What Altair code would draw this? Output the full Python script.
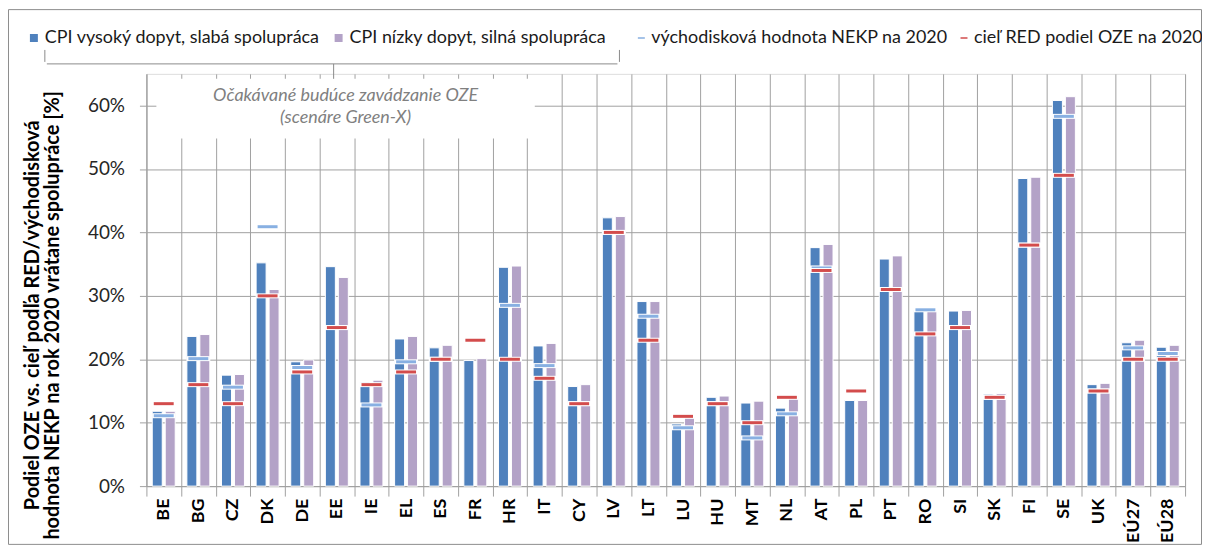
import altair as alt
import pandas as pd

countries = ["BE", "BG", "CZ", "DK", "DE", "EE", "IE", "EL", "ES", "FR", "HR", "IT", "CY", "LV", "LT",
             "LU", "HU", "MT", "NL", "AT", "PL", "PT", "RO", "SI", "SK", "FI", "SE", "UK", "EÚ27", "EÚ28"]
cpi_high = [11.8, 23.6, 17.5, 35.2, 19.6, 34.6, 16.4, 23.2, 21.8, 19.8, 34.5, 22.1, 15.7, 42.3, 29.1,
            9.8, 14.0, 13.1, 12.3, 37.6, 13.5, 35.8, 27.7, 27.6, 14.5, 48.5, 60.8, 16.0, 22.6, 21.9]
cpi_low = [11.8, 23.9, 17.6, 31.0, 19.9, 32.9, 16.7, 23.6, 22.2, 20.1, 34.7, 22.5, 16.0, 42.5, 29.1,
           10.8, 14.2, 13.4, 14.1, 38.1, 13.5, 36.3, 27.7, 27.7, 14.6, 48.7, 61.4, 16.2, 23.0, 22.2]
nekp = [11.1, 20.1, 15.6, 40.9, 18.7, 25.0, 12.8, 19.6, 20.0, 23.0, 28.5, 19.0, 13.0, 40.0, 26.8,
        9.2, 13.0, 7.6, 11.4, 34.4, 15.0, 31.0, 27.8, 25.0, 14.0, 38.0, 58.3, 15.0, 21.8, 20.9]
red_target = [13, 16, 13, 30, 18, 25, 16, 18, 20, 23, 20, 17, 13, 40, 23,
              11, 13, 10, 14, 34, 15, 31, 24, 25, 14, 38, 49, 15, 20, 20]

scenarios = ["CPI vysoký dopyt, slabá spolupráca", "CPI nízky dopyt, silná spolupráca"]
marker_series = ["východisková hodnota NEKP na 2020", "cieľ RED podiel OZE na 2020"]
y_ticks = [0, 0.1, 0.2, 0.3, 0.4, 0.5, 0.6]
y_title = ["Podiel OZE vs. cieľ podľa RED/východisková",
           "hodnota NEKP na rok 2020 vrátane spolupráce [%]"]
note_lines = ["Očakávané budúce zavádzanie OZE", "(scenáre Green-X)"]

bars = pd.DataFrame(
    [{"country": c, "scenario": scenarios[0], "value": v / 100} for c, v in zip(countries, cpi_high)]
    + [{"country": c, "scenario": scenarios[1], "value": v / 100} for c, v in zip(countries, cpi_low)]
)
nekp_df = pd.DataFrame({"country": countries, "series": marker_series[0], "value": [v / 100 for v in nekp]})
red_df = pd.DataFrame({"country": countries, "series": marker_series[1], "value": [v / 100 for v in red_target]})

FONT = "Lato"
W, H = 1043, 414
GRID = "#a0a0a0"

x_enc = alt.X("country:N", sort=countries, title=None,
              scale=alt.Scale(paddingInner=0, paddingOuter=0),
              axis=alt.Axis(tickBand="extent", grid=True, gridColor=GRID, gridWidth=1,
                            domainColor=GRID, tickColor=GRID, tickSize=10,
                            labelAngle=270, labelAlign="right", labelBaseline="middle",
                            labelPadding=2, labelFont=FONT, labelFontSize=18,
                            labelFontWeight="bold", labelColor="#000000"))
y_axis = alt.Axis(values=y_ticks, format=".0%", grid=True, gridColor=GRID, gridWidth=1,
                  domainColor=GRID, tickColor=GRID, tickSize=7, labelPadding=15,
                  labelFont=FONT, labelFontSize=19, labelColor="#262626",
                  title=y_title, titleFont=FONT, titleFontSize=20, titleFontWeight="bold",
                  titleColor="#000000", titleAngle=270, titleAlign="center",
                  titleBaseline="middle", titleLineHeight=20, titleX=-114, titleY=242)
y_enc = alt.Y("value:Q", scale=alt.Scale(domain=[0, 0.65], nice=False), axis=y_axis)

bar_layer = alt.Chart(bars).mark_bar(stroke="white", strokeWidth=1).encode(
    x=x_enc,
    xOffset=alt.XOffset("scenario:N", sort=scenarios,
                        scale=alt.Scale(paddingInner=0.23, paddingOuter=0.45)),
    y=y_enc,
    color=alt.Color("scenario:N", sort=scenarios,
                    scale=alt.Scale(domain=scenarios, range=["#4F81BD", "#B3A2C7"]),
                    legend=alt.Legend(title=None, orient="none", direction="horizontal",
                                      legendX=-122, legendY=-45, symbolType="square",
                                      symbolSize=64, symbolStrokeWidth=0, labelFont=FONT,
                                      labelFontSize=18, labelColor="#1a1a1a", labelLimit=500,
                                      labelOffset=2, columnPadding=9)),
)

stroke_enc = alt.Stroke("series:N", sort=marker_series,
                        scale=alt.Scale(domain=marker_series, range=["#558ED5", "#C00000"]),
                        legend=alt.Legend(title=None, orient="none", direction="horizontal",
                                          legendX=488, legendY=-45, symbolType="stroke",
                                          symbolSize=49, symbolStrokeWidth=1.5, labelFont=FONT,
                                          labelFontSize=18, labelColor="#1a1a1a", labelLimit=500,
                                          labelOffset=1, columnPadding=7))


def marker_layers(df):
    outline = alt.Chart(df).mark_tick(color="white", thickness=5, size=23, opacity=1).encode(
        x=alt.X("country:N", sort=countries), y=y_enc)
    line = alt.Chart(df).mark_tick(filled=False, thickness=1, size=18, strokeWidth=2).encode(
        x=alt.X("country:N", sort=countries), y=y_enc, stroke=stroke_enc)
    return [outline, line]


one = pd.DataFrame({"k": [0]})
note_box = alt.Chart(one).mark_rect(fill="white").encode(
    x=alt.value(10), x2=alt.value(390), y=alt.value(5), y2=alt.value(65))
note1 = alt.Chart(one).mark_text(font=FONT, fontSize=18, fontStyle="italic", color="#808080",
                                 align="center", baseline="middle").encode(
    x=alt.value(200), y=alt.value(22), text=alt.value(note_lines[0]))
note2 = alt.Chart(one).mark_text(font=FONT, fontSize=18, fontStyle="italic", color="#808080",
                                 align="center", baseline="middle").encode(
    x=alt.value(200), y=alt.value(44), text=alt.value(note_lines[1]))

BR = "#8a8a8a"
brace = [
    alt.Chart(one).mark_rule(color=BR, strokeWidth=1).encode(
        x=alt.value(-100), x2=alt.value(473), y=alt.value(-10)),
    alt.Chart(one).mark_rule(color=BR, strokeWidth=1).encode(
        x=alt.value(-102), y=alt.value(-24), y2=alt.value(-12)),
    alt.Chart(one).mark_rule(color=BR, strokeWidth=1).encode(
        x=alt.value(475), y=alt.value(-24), y2=alt.value(-12)),
    alt.Chart(one).mark_rule(color=BR, strokeWidth=1).encode(
        x=alt.value(188), y=alt.value(-10), y2=alt.value(5)),
]
frame = alt.Chart(one).mark_rect(fillOpacity=0, stroke="#8c8c8c", strokeWidth=1).encode(
    x=alt.value(-138.5), x2=alt.value(1059.5), y=alt.value(-64.5), y2=alt.value(472.5))

layers = [bar_layer] + marker_layers(nekp_df) + marker_layers(red_df) + [note_box, note1, note2] + brace + [frame]

chart = alt.layer(*layers).resolve_scale(color="independent").properties(
    width=W, height=H,
    autosize=alt.AutoSizeParams(type="none"),
    padding={"left": 139, "top": 65, "right": 17, "bottom": 59},
).configure_view(stroke=None).configure(background="white")

chart.save("out.html", embed_options={"renderer": "svg", "actions": False})
